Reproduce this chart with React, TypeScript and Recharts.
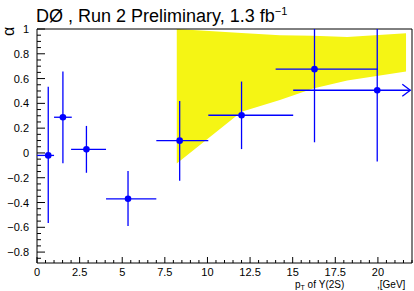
import { ComposedChart, Area, Scatter, ErrorBar, XAxis, YAxis, ReferenceArea, ReferenceDot } from "recharts";

// measured points: pT bin centre / edges, alpha value / error edges
const ptCenter = [0.66, 1.52, 2.9, 5.34, 8.37, 12.0, 16.28, 19.96];
const ptLow = [0, 1.0, 2.0, 4.05, 7.0, 10.05, 14.0, 15.03];
const ptHigh = [1.0, 2.04, 4.05, 7.0, 10.05, 15.03, 20.0, 21.9];
const alpha = [-0.02, 0.288, 0.029, -0.37, 0.099, 0.304, 0.676, 0.506];
const alphaLow = [-0.565, -0.084, -0.16, -0.59, -0.225, 0.031, 0.086, -0.07];
// last two run off the top of the frame
const alphaHigh = [0.535, 0.657, 0.218, -0.146, 0.42, 0.576, 1.0, 1.0];

// yellow theory band
const bandPt = [8.2, 12.0, 14.25, 16.2, 18.2, 21.65];
const bandLow = [-0.085, 0.333, 0.427, 0.52, 0.585, 0.657];
const bandHigh = [1.0, 0.967, 0.95, 0.946, 0.935, 0.965];

const xMajor = [0, 2.5, 5, 7.5, 10, 12.5, 15, 17.5, 20];
const yMajor = [-0.8, -0.6, -0.4, -0.2, 0, 0.2, 0.4, 0.6, 0.8, 1];

const X_MAX = 22;
const Y_MIN = -0.888;
const Y_MAX = 1;
const BLUE = "#0000ff";
const FONT = "'Liberation Sans', Arial, sans-serif";

const bandData = bandPt.map((x, i) => ({ x, range: [bandLow[i], bandHigh[i]] }));
const points = ptCenter.map((x, i) => ({
  x,
  y: alpha[i],
  ex: [x - ptLow[i], ptHigh[i] - x],
  ey: [alpha[i] - alphaLow[i], alphaHigh[i] - alpha[i]],
}));

const xTicks: number[] = [];
for (let v = 0; v <= X_MAX + 1e-9; v += 0.5) xTicks.push(Math.round(v * 10) / 10);
const yTicks: number[] = [];
for (let v = -0.85; v <= Y_MAX + 1e-9; v += 0.05) yTicks.push(Math.round(v * 100) / 100);

const isMajor = (list: number[], v: number) => list.some((m) => Math.abs(m - v) < 1e-6);
const fmt = (v: number) => (v < 0 ? "\u2212" + String(-v) : String(v));

function YTick({ x, y, payload }: any) {
  const major = isMajor(yMajor, payload.value);
  return (
    <g>
      <line x1={x} x2={x + (major ? 8 : 4)} y1={y} y2={y} stroke="#000" />
      {major && (
        <text x={x - 8} y={y + 4} textAnchor="end" fontSize={11} fontFamily={FONT} fill="#000">
          {fmt(payload.value)}
        </text>
      )}
    </g>
  );
}

function XTick({ x, y, payload }: any) {
  const major = isMajor(xMajor, payload.value);
  return (
    <g>
      <line x1={x} x2={x} y1={y} y2={y - (major ? 6 : 3)} stroke="#000" />
      {major && (
        <text x={x} y={y + 13} textAnchor="middle" fontSize={11} fontFamily={FONT} fill="#000">
          {payload.value}
        </text>
      )}
    </g>
  );
}

const Arrow = ({ cx, cy }: any) => (
  <polyline points={`${cx - 8},${cy - 6} ${cx},${cy} ${cx - 8},${cy + 6}`} fill="none" stroke={BLUE} strokeWidth={1.3} />
);

export default function App() {
  return (
    <div style={{ position: "absolute", left: 0, top: 0, width: 414, height: 291, background: "#fff" }}>
      <ComposedChart width={414} height={291} data={bandData} margin={{ top: 29, right: 2, bottom: 0, left: 0 }}>
        <XAxis
          dataKey="x"
          type="number"
          domain={[0, X_MAX]}
          ticks={xTicks}
          interval={0}
          allowDataOverflow
          height={28}
          tickSize={0}
          tickMargin={0}
          tickLine={false}
          axisLine={false}
          tick={<XTick />}
        />
        <YAxis
          type="number"
          domain={[Y_MIN, Y_MAX]}
          ticks={yTicks}
          interval={0}
          allowDataOverflow
          width={37}
          tickSize={0}
          tickMargin={0}
          tickLine={false}
          axisLine={false}
          tick={<YTick />}
        />
        <Area dataKey="range" type="linear" fill="#f5f514" fillOpacity={1} stroke="none" isAnimationActive={false} />
        <Scatter
          data={points}
          dataKey="y"
          isAnimationActive={false}
          shape={(p: any) => <circle cx={p.cx} cy={p.cy} r={3.3} fill={BLUE} />}
        >
          <ErrorBar dataKey="ex" direction="x" width={0} stroke={BLUE} strokeWidth={1.3} />
          <ErrorBar dataKey="ey" direction="y" width={0} stroke={BLUE} strokeWidth={1.3} />
        </Scatter>
        <ReferenceDot x={ptHigh[7]} y={alpha[7]} shape={<Arrow />} />
        <ReferenceArea x1={0} x2={X_MAX} y1={Y_MIN} y2={Y_MAX} fill="none" stroke="#000" strokeWidth={1} />
      </ComposedChart>
      <svg width={414} height={291} style={{ position: "absolute", left: 0, top: 0, pointerEvents: "none" }}>
        <text x={36} y={22} fontSize={18} fontFamily={FONT} fill="#000">
          DØ , Run 2 Preliminary, 1.3 fb
          <tspan fontSize={11} dy={-7}>−1</tspan>
        </text>
        <text transform="translate(14,36) rotate(-90)" fontSize={16} fontFamily={FONT} fill="#000">
          α
        </text>
        <text x={295} y={288} fontSize={10} fontFamily={FONT} fill="#000">
          p<tspan fontSize={7} dy={2}>T</tspan>
          <tspan dy={-2}> of Υ(2S)</tspan>
        </text>
        <text x={377} y={288} fontSize={10} fontFamily={FONT} fill="#000">
          ,[GeV]
        </text>
      </svg>
    </div>
  );
}
